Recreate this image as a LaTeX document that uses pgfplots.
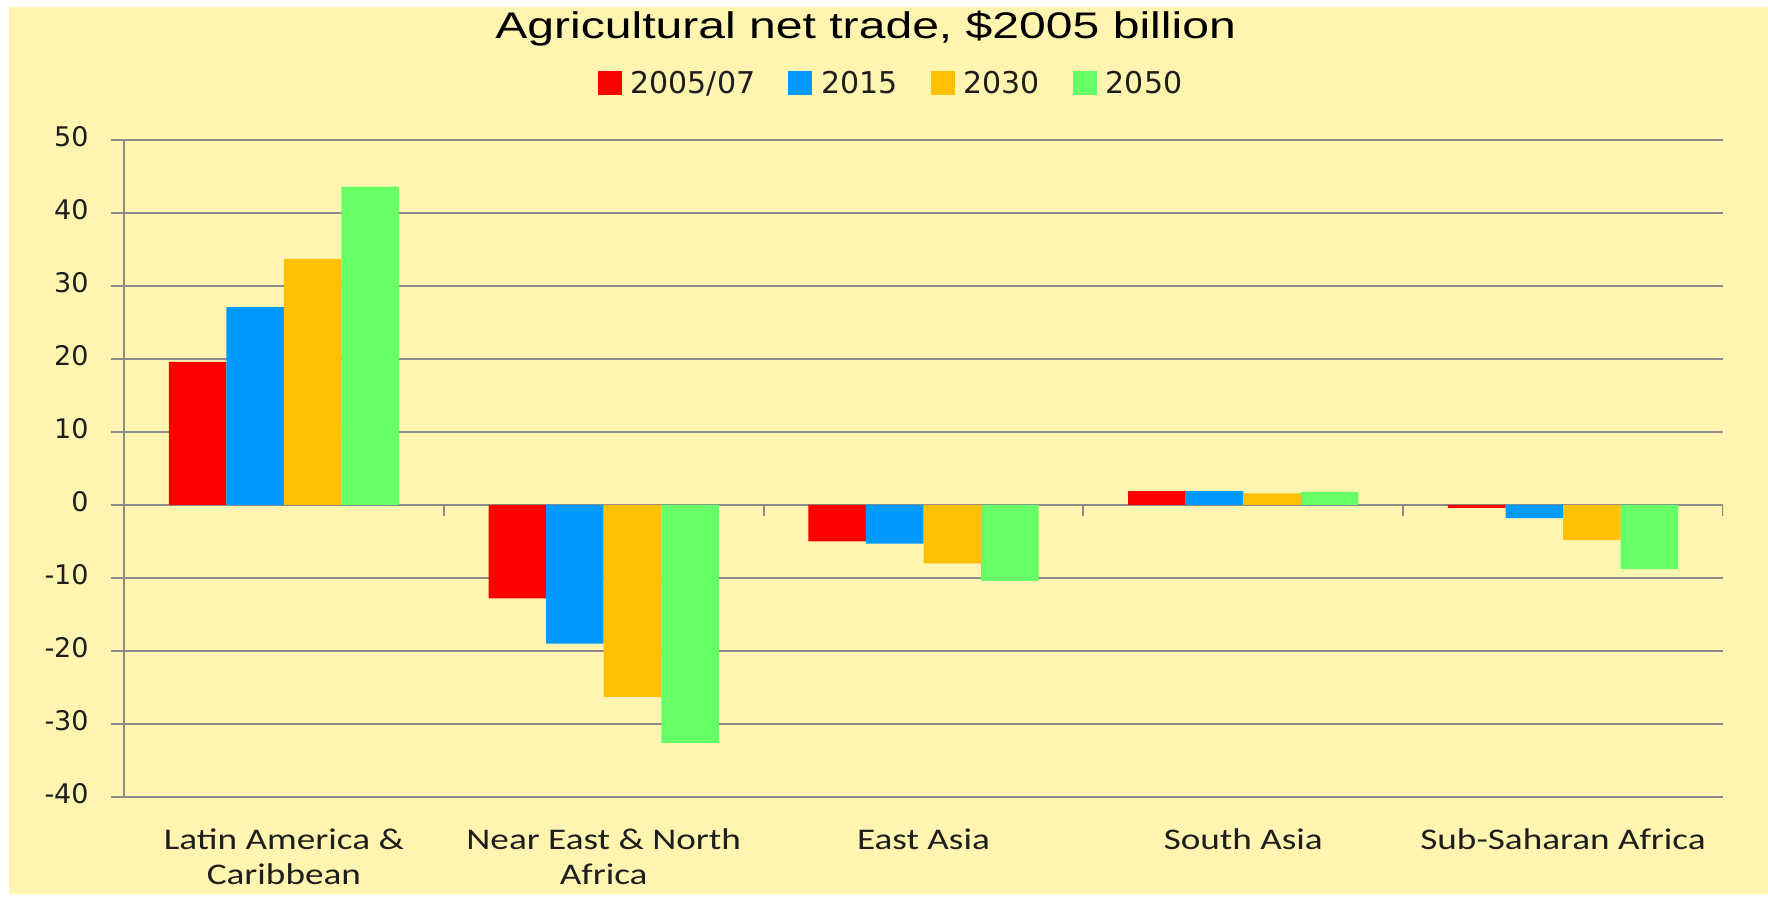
\documentclass[border=0pt]{standalone}
\usepackage{pgfplots}
\pgfplotsset{compat=1.18}
\usepackage{fontspec}
\setmainfont{Liberation Sans}
\newfontfamily\titlefont{Liberation Sans}[FakeStretch=1.3]
\newfontfamily\tickfont{DejaVu Sans}
\newfontfamily\catfont{Carlito}[FakeStretch=1.24]
\newfontfamily\legfont{DejaVu Sans}
\definecolor{bg}{RGB}{255,245,176}
\definecolor{gridgray}{RGB}{140,140,140}
\definecolor{txt}{RGB}{30,30,30}
\definecolor{c1}{RGB}{255,0,0}
\definecolor{c2}{RGB}{0,153,255}
\definecolor{c3}{RGB}{255,192,0}
\definecolor{c4}{RGB}{102,255,102}
\pgfplotsset{/pgfplots/ybar legend/.style={/pgfplots/legend image code/.code={\fill[##1] (0pt,-6pt) rectangle (12pt,6pt);}}}

\begin{document}
\begin{tikzpicture}[x=1pt,y=1pt]
\path[use as bounding box] (0,0) rectangle (884,448.5);
\fill[white] (0,0) rectangle (884,448.5);
\fill[bg] (4.5,1.5) rectangle (884,445);
\node[anchor=base, font=\titlefont\fontsize{18.5}{22}\selectfont, inner sep=0pt, text=black]
  at (432.8,429) {Agricultural net trade, \$2005 billion};
\begin{axis}[
    at={(62pt,50pt)}, anchor=south west,
    scale only axis, width=799.5pt, height=328.5pt,
    ybar=0pt, bar width=0.18,
    xmin=-0.5, xmax=4.5, ymin=-40, ymax=50,
    xtick={0,...,4},
    xticklabels={{Latin America \&\\Caribbean},{Near East \& North\\Africa},East Asia,South Asia,Sub-Saharan Africa},
    ytick={-40,-30,...,50},
    yticklabels={-40,-30,-20,-10,0,10,20,30,40,50},
    axis lines=left,
    axis line style={gridgray, line width=1pt, -},
    ymajorgrids,
    grid style={gridgray, line width=1pt},
    tick align=outside,
    major tick length=6.5pt,
    ytick style={gridgray, line width=1pt},
    xtick style={draw=none},
    typeset ticklabels with strut,
    xticklabel style={font=\catfont\fontsize{15}{17.25}\selectfont, align=center, text=txt, inner sep=0pt, yshift=-7.7pt},
    yticklabel style={font=\tickfont\fontsize{13.5}{16}\selectfont, text=txt, inner sep=0pt, xshift=-11pt},
    legend columns=4,
    legend style={at={(0.479,1.086)}, anchor=center, draw=none, fill=none,
        font=\legfont\fontsize{15}{18}\selectfont, column sep=4.5pt,
        /tikz/every even column/.append style={column sep=16.5pt},
        nodes={inner sep=0pt, text=txt}},
]
\addplot[fill=c1, draw=none] coordinates {(0,19.6) (1,-12.8) (2,-5.0) (3,1.9) (4,-0.4)};
\addplot[fill=c2, draw=none] coordinates {(0,27.1) (1,-19.0) (2,-5.3) (3,1.9) (4,-1.8)};
\addplot[fill=c3, draw=none] coordinates {(0,33.7) (1,-26.3) (2,-8.0) (3,1.6) (4,-4.8)};
\addplot[fill=c4, draw=none] coordinates {(0,43.6) (1,-32.6) (2,-10.4) (3,1.8) (4,-8.8)};
\legend{2005/07,2015,2030,2050}
% category boundary ticks on the zero line
\pgfplotsinvokeforeach{-0.5,0.5,1.5,2.5,3.5,4.5}{
  \draw[gridgray, line width=1pt] (axis cs:#1,0) -- ([yshift=-5.5pt]axis cs:#1,0);
}
\end{axis}
\end{tikzpicture}
\end{document}
